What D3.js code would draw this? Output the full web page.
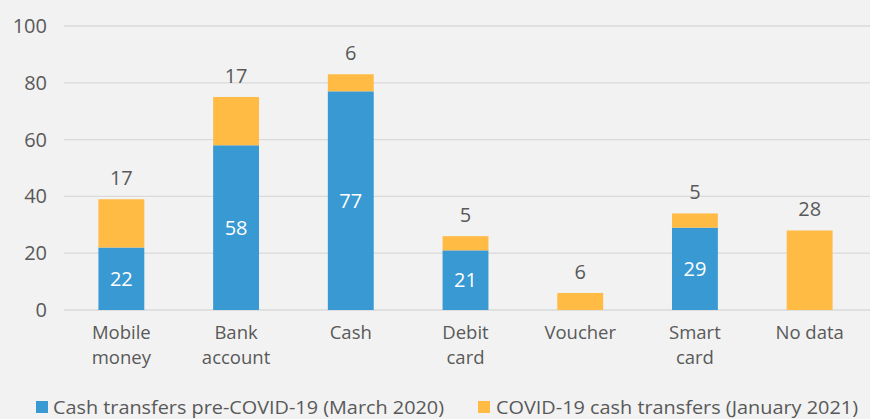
<!DOCTYPE html>
<html><head><meta charset="utf-8">
<script src="https://cdn.jsdelivr.net/npm/d3@7"></script>
<style>
body{margin:0;background:#f2f2f2;}
svg{display:block;font-family:"Open Sans",sans-serif;}
</style></head><body>
<svg id="c" width="870" height="419"></svg>
<script>
const categories = ["Mobile money","Bank account","Cash","Debit card","Voucher","Smart card","No data"];
const categoryLines = [["Mobile","money"],["Bank","account"],["Cash"],["Debit","card"],["Voucher"],["Smart","card"],["No data"]];
const preCovid = [22,58,77,21,0,29,0];
const covid = [17,17,6,5,6,5,28];
const yTicks = [0,20,40,60,80,100];
const seriesNames = ["Cash transfers pre-COVID-19 (March 2020)","COVID-19 cash transfers (January 2021)"];
const colors = ["#3899d3","#ffbb44"];
const textCol = "#595959";

const svg = d3.select("#c");
svg.append("rect").attr("width",870).attr("height",419).attr("fill","#f2f2f2");
const x = d3.scaleBand().domain(categories).range([64,867]).paddingInner(0.6).paddingOuter(0.3);
const y = d3.scaleLinear().domain([0,100]).range([310,26]);

svg.append("g").selectAll("line").data(yTicks).join("line")
  .attr("x1",64).attr("x2",870).attr("y1",d=>y(d)).attr("y2",d=>y(d))
  .attr("stroke","#d9d9d9").attr("stroke-width",1.3);
svg.append("g").selectAll("text").data(yTicks).join("text")
  .attr("x",47).attr("y",d=>y(d)).attr("dy","0.35em").attr("text-anchor","end")
  .attr("fill",textCol).attr("font-size",20).text(d=>d);

const data = categories.map((c,i)=>({c,a:preCovid[i],b:covid[i],lines:categoryLines[i]}));
const g = svg.append("g");
g.selectAll("rect.a").data(data.filter(d=>d.a>0)).join("rect")
  .attr("x",d=>x(d.c)).attr("width",x.bandwidth())
  .attr("y",d=>y(d.a)).attr("height",d=>y(0)-y(d.a)).attr("fill",colors[0]);
g.selectAll("rect.b").data(data).join("rect")
  .attr("x",d=>x(d.c)).attr("width",x.bandwidth())
  .attr("y",d=>y(d.a+d.b)).attr("height",d=>y(d.a)-y(d.a+d.b)).attr("fill",colors[1]);
g.selectAll("text.a").data(data.filter(d=>d.a>0)).join("text")
  .attr("x",d=>x(d.c)+x.bandwidth()/2).attr("y",d=>y(d.a/2)).attr("dy","0.35em")
  .attr("text-anchor","middle").attr("fill","#fff").attr("font-size",20).text(d=>d.a);
g.selectAll("text.b").data(data).join("text")
  .attr("x",d=>x(d.c)+x.bandwidth()/2).attr("y",d=>y(d.a+d.b)-21).attr("dy","0.35em")
  .attr("text-anchor","middle").attr("fill",textCol).attr("font-size",20).text(d=>d.b);
const cl = svg.append("g");
data.forEach(d=>{
  d.lines.forEach((l,i)=>{
    cl.append("text").attr("x",x(d.c)+x.bandwidth()/2).attr("y",339+i*25)
      .attr("text-anchor","middle").attr("fill",textCol).attr("font-size",18.5).text(l);
  });
});

const leg = [{x:36,tx:53,w:391},{x:478,tx:496,w:362}];
leg.forEach((l,i)=>{
  svg.append("rect").attr("x",l.x).attr("y",401).attr("width",12).attr("height",12).attr("fill",colors[i]);
  svg.append("text").attr("x",l.tx).attr("y",414).attr("fill",textCol).attr("font-size",18.5)
    .attr("textLength",l.w).attr("lengthAdjust","spacingAndGlyphs").text(seriesNames[i]);
});
</script></body></html>
